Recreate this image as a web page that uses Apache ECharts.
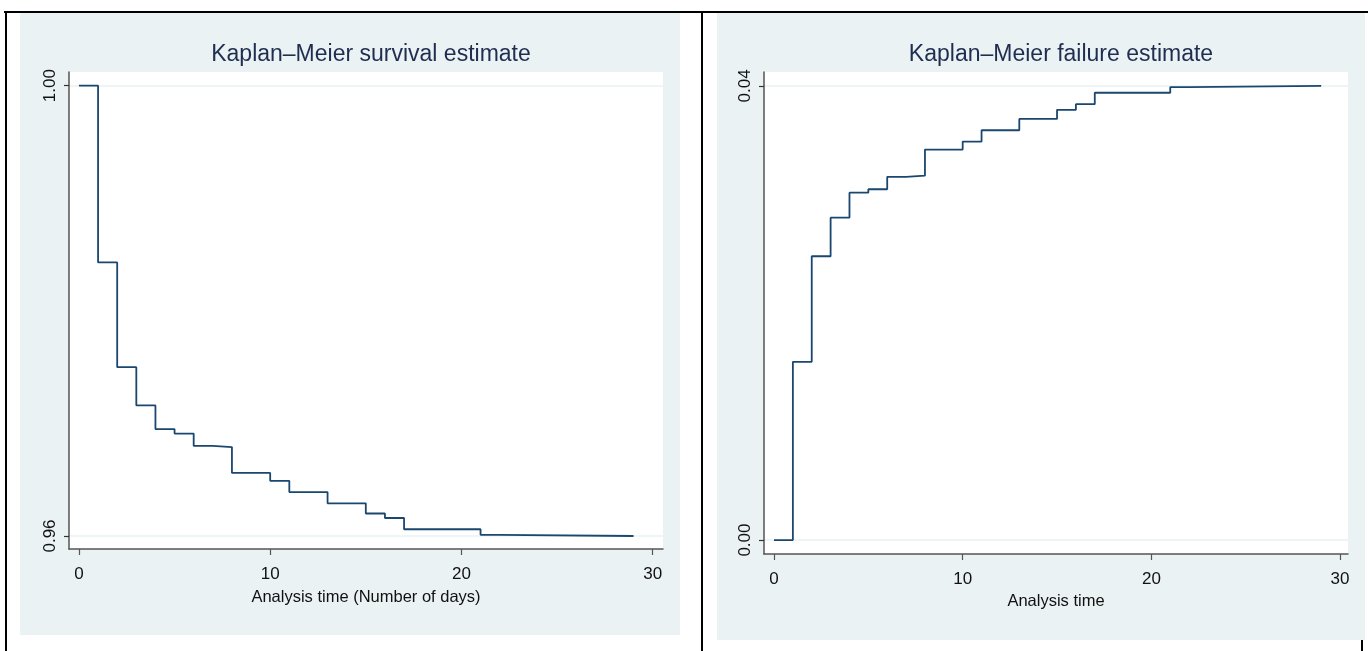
<!DOCTYPE html>
<html>
<head>
<meta charset="utf-8">
<script src="https://cdn.jsdelivr.net/npm/echarts@6/dist/echarts.min.js"></script>
<style>
  html, body { margin: 0; padding: 0; background: #ffffff; }
  #chart { width: 1368px; height: 651px; }
</style>
</head>
<body>
<div id="chart"></div>
<script>
// Event times (days) at which the KM estimate changes, plus end of follow-up
const times = [0, 1, 2, 3, 4, 5, 6, 7, 8, 10, 11, 13, 15, 16, 17, 21, 22, 29];
// Kaplan–Meier survival estimate (left panel)
const survival = [1.0000, 0.9843, 0.9750, 0.9716, 0.9695, 0.9691, 0.9680, 0.9679, 0.9656, 0.9649, 0.9639, 0.9629, 0.9620, 0.9616, 0.9606, 0.9601, 0.9600, 0.9600];
// Kaplan–Meier failure estimate (right panel)
const failure = [0.0000, 0.0157, 0.0250, 0.0284, 0.0306, 0.0309, 0.0320, 0.0321, 0.0344, 0.0351, 0.0361, 0.0371, 0.0379, 0.0384, 0.0394, 0.0399, 0.0400, 0.0400];
// Tick labels
const xTicks = [0, 10, 20, 30];
const survivalTicks = [0.96, 1.00];
const failureTicks = [0.00, 0.04];
const titles = ['Kaplan–Meier survival estimate', 'Kaplan–Meier failure estimate'];
const xNames = ['Analysis time (Number of days)', 'Analysis time'];

const FONT = '"Liberation Sans", Arial, sans-serif';
const LINE = '#1a476f';
const BG = '#eaf2f3';
const AXIS = '#555555';

const chart = echarts.init(document.getElementById('chart'), null, { renderer: 'canvas' });

function xAxisCfg(gridIndex, min, max, name, gap, margin) {
  return {
    type: 'value', gridIndex, min, max, name,
    nameLocation: 'middle', nameGap: gap,
    nameTextStyle: { color: '#111', fontFamily: FONT, fontSize: 16.5 },
    axisLine: { show: true, onZero: false, lineStyle: { color: AXIS, width: 1.5 } },
    axisTick: { show: true, length: 6, customValues: xTicks, lineStyle: { color: AXIS, width: 1.2 } },
    axisLabel: { customValues: xTicks, margin, color: '#111', fontFamily: FONT, fontSize: 17 },
    splitLine: { show: false }
  };
}
function yAxisCfg(gridIndex, min, max, ticks) {
  return {
    type: 'value', gridIndex, min, max,
    axisLine: { show: true, onZero: false, lineStyle: { color: AXIS, width: 1.5 } },
    axisTick: { show: true, length: 5, customValues: ticks, lineStyle: { color: '#333', width: 1.2 } },
    axisLabel: { customValues: ticks, rotate: 90, margin: 10, color: '#111', fontFamily: FONT, fontSize: 17,
      formatter: v => v.toFixed(2) },
    splitLine: { show: true, lineStyle: { color: BG, width: 1.5 } }
  };
}

const option = {
  animation: false,
  backgroundColor: '#ffffff',
  graphic: [
    { type: 'rect', z: -100, shape: { x: 20, y: 13, width: 660, height: 622 }, style: { fill: BG } },
    { type: 'rect', z: -100, shape: { x: 717, y: 13, width: 648, height: 627 }, style: { fill: BG } },
    { type: 'rect', z: 100, shape: { x: 4, y: 11, width: 1364, height: 2 }, style: { fill: '#000' } },
    { type: 'rect', z: 100, shape: { x: 5, y: 11, width: 2, height: 640 }, style: { fill: '#000' } },
    { type: 'rect', z: 100, shape: { x: 701, y: 11, width: 2, height: 640 }, style: { fill: '#000' } },
    { type: 'rect', z: 100, shape: { x: 1361, y: 640, width: 2, height: 11 }, style: { fill: '#000' } }
  ],
  title: [
    { text: titles[0], left: 366, top: 38, textAlign: 'center',
      textStyle: { color: '#1f2d50', fontFamily: FONT, fontSize: 23, fontWeight: 'normal' } },
    { text: titles[1], left: 1056, top: 38, textAlign: 'center',
      textStyle: { color: '#1f2d50', fontFamily: FONT, fontSize: 23, fontWeight: 'normal' } }
  ],
  grid: [
    { left: 69, top: 72, width: 594, height: 477, show: true, backgroundColor: '#ffffff', borderWidth: 0 },
    { left: 764, top: 72, width: 584, height: 482, show: true, backgroundColor: '#ffffff', borderWidth: 0 }
  ],
  xAxis: [
    xAxisCfg(0, -0.52, 30.54, xNames[0], 40, 17),
    xAxisCfg(1, -0.53, 30.42, xNames[1], 38, 17)
  ],
  yAxis: [
    yAxisCfg(0, 0.958845, 1.001217, survivalTicks),
    yAxisCfg(1, -0.00123, 0.04123, failureTicks)
  ],
  series: [
    { type: 'line', xAxisIndex: 0, yAxisIndex: 0, step: 'end', showSymbol: false, z: 5,
      lineStyle: { color: LINE, width: 1.8 },
      data: times.map((t, i) => [t, survival[i]]) },
    { type: 'line', xAxisIndex: 1, yAxisIndex: 1, step: 'end', showSymbol: false, z: 5,
      lineStyle: { color: LINE, width: 1.8 },
      data: times.map((t, i) => [t, failure[i]]) }
  ]
};
chart.setOption(option);
</script>
</body>
</html>
